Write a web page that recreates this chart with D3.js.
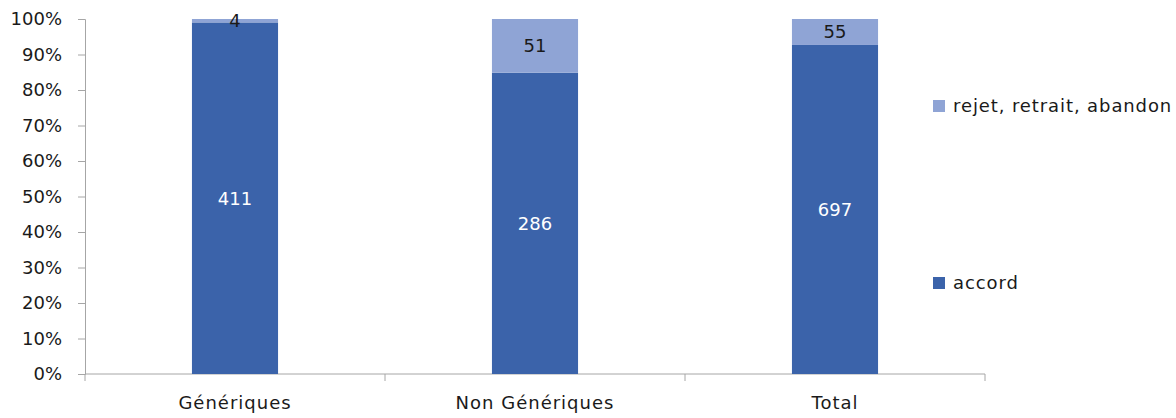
<!DOCTYPE html>
<html>
<head>
<meta charset="utf-8">
<script src="https://cdn.jsdelivr.net/npm/d3@7"></script>
<style>
  body { margin: 0; background: #fff; }
  svg text { font-family: "DejaVu Sans", "Noto Sans", sans-serif; }
</style>
</head>
<body>
<div id="c_plot"></div>
<script>
var categories = ["Génériques", "Non Génériques", "Total"];
var seriesNames = ["accord", "rejet, retrait, abandon"];
var accord = [411, 286, 697];
var rejet = [4, 51, 55];
var yTicks = [0, 0.1, 0.2, 0.3, 0.4, 0.5, 0.6, 0.7, 0.8, 0.9, 1];

var colors = ["#3b63aa", "#8fa4d5"];
var labelColors = ["#ffffff", "#1a1a1a"];
var axisColor = "#a6a6a6";
var fs = 18;

var W = 1176, H = 418;
var margin = {top: 19, left: 85, right: 191, bottom: 44};
var width = W - margin.left - margin.right;
var height = H - margin.top - margin.bottom;

var svg = d3.select("#c_plot").append("svg")
  .attr("width", W).attr("height", H);
var g = svg.append("g")
  .attr("transform", "translate(" + margin.left + "," + margin.top + ")");

// build stacked rows
var rows = categories.map(function(c, i){
  return {cat: c, vals: [accord[i], rejet[i]]};
});

var x = d3.scaleBand().domain(categories).range([0, width]).paddingInner(0.713).paddingOuter(0.3565);
var y = d3.scaleLinear().domain([0, 1]).range([height, 0]);

// y axis
var yAxis = g.append("g")
  .call(d3.axisLeft(y).tickValues(yTicks).tickFormat(d3.format(".0%")).tickSize(7).tickPadding(16));
yAxis.select(".domain").attr("stroke", axisColor);
yAxis.selectAll(".tick line").attr("stroke", axisColor);
yAxis.selectAll(".tick text").attr("font-size", fs).attr("fill", "#1a1a1a");

// x axis: ticks at band boundaries
var xAxis = g.append("g").attr("transform", "translate(0," + height + ")");
xAxis.append("line").attr("x1", 0).attr("x2", width).attr("stroke", axisColor);
var step = width / categories.length;
d3.range(categories.length + 1).forEach(function(k){
  xAxis.append("line")
    .attr("x1", k * step).attr("x2", k * step)
    .attr("y1", 0).attr("y2", 7)
    .attr("stroke", axisColor);
});
categories.forEach(function(c){
  xAxis.append("text")
    .attr("x", x(c) + x.bandwidth() / 2)
    .attr("y", 35)
    .attr("text-anchor", "middle")
    .attr("font-size", fs)
    .attr("letter-spacing", 1)
    .attr("fill", "#1a1a1a")
    .text(c);
});

// bars
rows.forEach(function(r){
  var total = d3.sum(r.vals);
  var acc = 0;
  r.vals.forEach(function(v, s){
    var y0 = acc / total, y1 = (acc + v) / total;
    acc += v;
    g.append("rect")
      .attr("x", x(r.cat))
      .attr("width", x.bandwidth())
      .attr("y", y(y1))
      .attr("height", y(y0) - y(y1))
      .attr("fill", colors[s]);
    g.append("text")
      .attr("x", x(r.cat) + x.bandwidth() / 2)
      .attr("y", (y(y0) + y(y1)) / 2)
      .attr("dy", "0.35em")
      .attr("text-anchor", "middle")
      .attr("font-size", fs)
      .attr("fill", labelColors[s])
      .text(v);
  });
});

// legend
var legendY = [283, 106];
seriesNames.forEach(function(n, s){
  var lg = svg.append("g").attr("transform", "translate(933," + legendY[s] + ")");
  lg.append("rect").attr("x", 0).attr("y", -6).attr("width", 12).attr("height", 12).attr("fill", colors[s]);
  lg.append("text").attr("x", 20).attr("dy", "0.35em").attr("font-size", fs)
    .attr("letter-spacing", 0.9).attr("fill", "#1a1a1a").text(n);
});
</script>
</body>
</html>
